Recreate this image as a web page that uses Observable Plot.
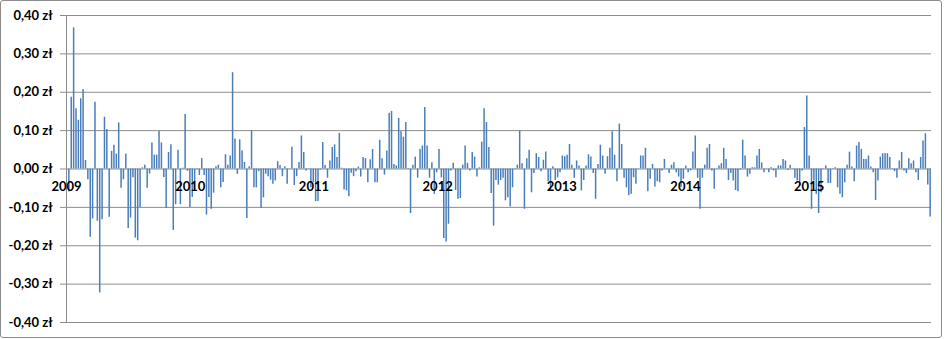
<!DOCTYPE html>
<html><head><meta charset="utf-8">
<script src="https://cdn.jsdelivr.net/npm/d3@7"></script>
<script src="https://cdn.jsdelivr.net/npm/@observablehq/plot@0.6"></script>
<style>
body{margin:0;background:#fff;}
#wrap{position:relative;width:945px;height:339px;overflow:hidden;}
#border{position:absolute;left:0;top:0;width:942px;height:338px;box-sizing:border-box;border:1px solid #8c8c8c;border-radius:3px;pointer-events:none;}
</style></head><body>
<div id="wrap"><div id="chart"></div><div id="border"></div></div>
<script>
// weekly changes, first week starting 2009-01-08
const startDate = "2009-01-08";
const values = [
-0.06,0.187,0.368,0.157,0.127,0.183,0.207,0.022,-0.028,-0.178,-0.13,0.174,-0.136,-0.323,-0.132,0.135,0.103,-0.126,0.046,0.062,0.039,0.12,-0.05,-0.028,0.039,-0.155,-0.128,-0.023,-0.18,-0.187,-0.10,0.003,0.01,-0.05,-0.013,0.068,0.036,0.036,0.098,0.068,-0.022,-0.103,0.043,0.063,-0.16,-0.093,0.049,-0.093,0.002,0.142,-0.006,-0.10,-0.074,-0.058,0.001,-0.017,0.027,-0.017,-0.12,-0.074,
-0.105,-0.063,0.006,0.01,-0.049,-0.035,0.037,0.01,0.034,0.251,0.078,-0.014,0.076,0.047,0.017,-0.129,0.006,0.1,-0.049,-0.049,-0.007,-0.103,-0.075,-0.014,-0.02,-0.029,-0.04,-0.031,0.019,0.009,-0.02,0.006,-0.04,0.001,0.057,-0.043,-0.02,0.017,0.086,0.043,-0.005,0.001,-0.049,-0.035,-0.085,-0.085,-0.003,0.069,0.009,-0.024,0.021,0.056,0.063,0.03,0.093,0.002,-0.055,-0.057,-0.072,-0.011,-0.02,
-0.007,0.005,-0.021,0.03,0.027,-0.036,0.024,0.051,-0.036,-0.036,0.075,0.027,-0.016,0.047,0.145,0.15,0.012,0.008,0.132,0.097,0.083,0.121,0.001,-0.116,0.01,0.031,-0.024,0.051,0.06,0.16,0.06,-0.024,0.016,-0.066,-0.01,0.051,-0.023,-0.181,-0.19,-0.144,-0.005,0.015,-0.056,-0.079,-0.077,0.01,0.06,0.015,-0.005,0.043,0.031,-0.021,0.003,0.07,0.157,0.121,0.056,-0.064,-0.149,-0.03,-0.042,
-0.03,-0.024,-0.083,-0.075,-0.099,-0.049,0.001,0.01,0.099,0.014,-0.105,0.027,0.049,-0.062,-0.012,0.04,0.03,-0.007,0.023,0.044,-0.033,-0.057,0.006,-0.03,-0.023,-0.01,0.034,0.032,0.036,0.064,0.01,-0.024,0.021,0.008,-0.057,-0.03,0.008,0.037,0.031,-0.012,-0.079,0.012,0.062,0.034,-0.014,0.032,0.054,0.097,0.036,-0.033,0.117,0.064,-0.024,-0.049,-0.07,-0.066,-0.023,-0.04,0.001,0.034,0.034,
0.054,-0.059,-0.027,0.012,-0.047,-0.033,-0.036,-0.005,0.025,0.001,-0.012,0.01,0.016,-0.01,-0.021,-0.049,-0.027,0.008,-0.01,-0.005,0.044,0.086,-0.024,-0.105,-0.024,0.01,0.054,0.064,-0.005,-0.053,0.001,0.008,0.014,0.054,0.025,-0.03,-0.012,-0.031,-0.056,-0.059,-0.003,0.075,0.034,-0.021,-0.014,0.003,0.003,0.034,0.051,0.016,-0.01,0.001,-0.01,0.003,-0.005,-0.023,0.008,0.008,0.025,0.021,-0.003,
0.01,0.001,-0.024,-0.031,-0.044,-0.005,0.108,0.19,0.034,-0.105,-0.031,-0.066,-0.116,-0.062,0.001,0.008,-0.038,-0.038,0.001,0.003,-0.049,-0.066,-0.075,-0.036,0.01,0.044,0.005,-0.033,0.06,0.069,0.051,0.025,0.025,0.034,0.005,-0.01,-0.082,-0.031,0.031,0.04,0.04,0.04,0.03,0.001,-0.007,-0.024,0.021,0.043,-0.005,-0.012,0.027,0.014,0.021,-0.01,-0.03,0.03,0.073,0.092,-0.042,-0.125
];
const yTicks = [0.4, 0.3, 0.2, 0.1, 0, -0.1, -0.2, -0.3, -0.4];
const yTickLabels = ["0,40 zł","0,30 zł","0,20 zł","0,10 zł","0,00 zł","-0,10 zł","-0,20 zł","-0,30 zł","-0,40 zł"];
const yearLabels = ["2009","2010","2011","2012","2013","2014","2015"];

const start = new Date(startDate + "T00:00:00Z");
const data = values.map((v, i) => ({date: d3.utcDay.offset(start, 7 * i), value: v}));
const years = yearLabels.map(y => ({date: new Date(Date.UTC(+y, 0, 1)), label: y}));
const xDomain = [new Date(Date.UTC(2009, 0, 1)), new Date(Date.UTC(2015, 11, 28))];
const grid = "#8c8c8c";

const chart = Plot.plot({
  width: 945, height: 339,
  marginLeft: 66, marginRight: 14, marginTop: 15, marginBottom: 17,
  style: {fontFamily: "Lato, 'Open Sans', sans-serif", fontSize: "13px", fontWeight: "bold", background: "transparent", color: "#000"},
  x: {type: "utc", domain: xDomain, axis: null},
  y: {domain: [-0.4, 0.4], axis: null},
  marks: [
    Plot.ruleY(yTicks, {stroke: grid, strokeWidth: 1}),
    Plot.ruleX([xDomain[0]], {y1: -0.4, y2: 0.4, stroke: grid, strokeWidth: 1}),
    Plot.axisY({ticks: yTicks, tickFormat: d => yTickLabels[yTicks.indexOf(d)], tickSize: 6, tickPadding: 8, stroke: grid, fill: "#000", fontWeight: "bold", fontSize: 13, label: null}),
    Plot.ruleX(data, {x: "date", y1: 0, y2: "value", stroke: "#4a7ebb", strokeWidth: 1.5}),
    Plot.text(years, {x: "date", y: 0, dy: 18, text: "label", fill: "#000", fontWeight: "bold", fontSize: 13})
  ]
});
document.getElementById("chart").appendChild(chart);
</script>
</body></html>
